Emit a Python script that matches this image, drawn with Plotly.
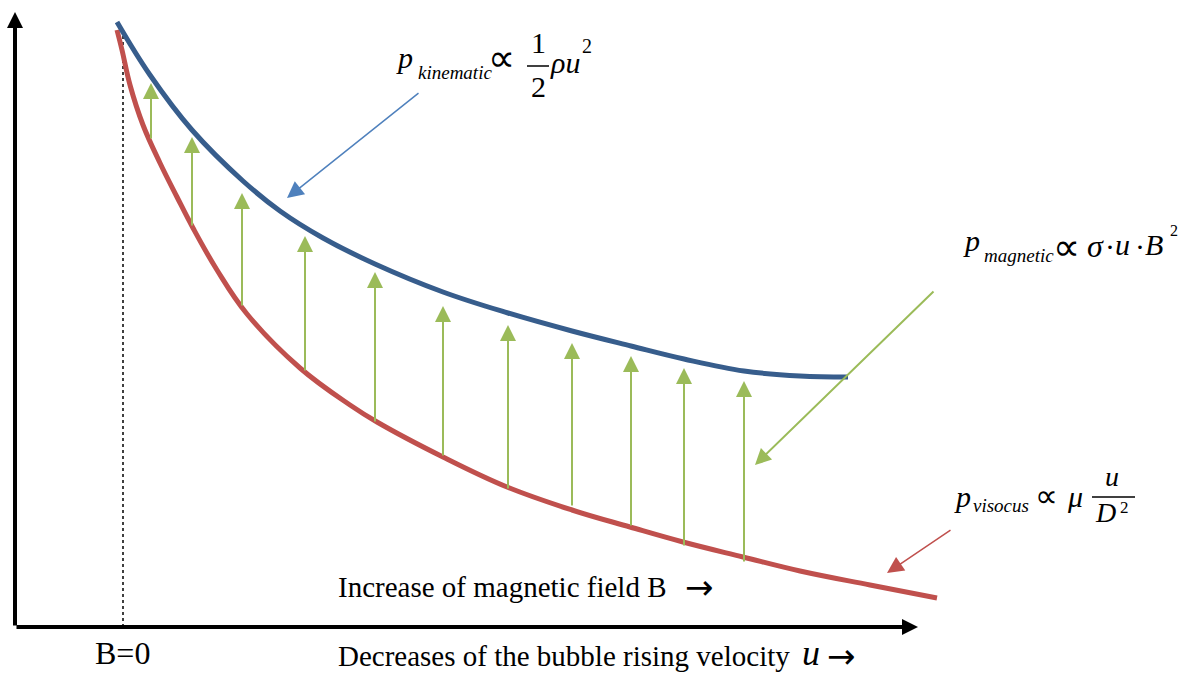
import plotly.graph_objects as go

# canvas coordinates (pixels, y grows downwards) for this schematic
W, H = 1195, 675

# upper curve: kinematic pressure
kin_x = [117, 150, 192, 243, 280, 323, 375, 443, 508, 572, 631, 684, 744, 800, 848]
kin_y = [22, 75, 130, 181, 211, 238, 264, 292, 313, 331, 346, 359, 371, 376, 377]

# lower curve: viscous pressure
vis_x = [117, 122, 130, 143, 160, 177, 193, 217, 247, 300, 350, 377, 443, 507, 572, 630, 683,
         743, 800, 870, 937]
vis_y = [30, 50, 85, 125, 163, 197, 228, 270, 314, 368, 405, 422, 457, 487, 510, 527, 542,
         557, 571, 585, 598]

# magnetic pressure arrows: x, tail (on lower curve), tip
mag_x = [151, 192, 242, 305, 375, 443, 508, 572, 631, 684, 744]
mag_tail = [140, 227, 307, 372, 423, 457, 490, 507, 527, 547, 563]
mag_tip = [83, 137, 193, 236, 272, 306, 325, 343, 356, 368, 381]

SERIF = "Liberation Serif, Times New Roman, serif"
SYM = "DejaVu Sans, sans-serif"

fig = go.Figure()

fig.add_trace(go.Scatter(x=[123, 123], y=[30, 625], mode="lines",
                         line=dict(color="black", width=1.5, dash="dot"), hoverinfo="skip"))
fig.add_trace(go.Scatter(x=vis_x, y=vis_y, mode="lines",
                         line=dict(color="#C0504D", width=5, shape="spline", smoothing=1.1),
                         hoverinfo="skip"))
fig.add_trace(go.Scatter(x=kin_x, y=kin_y, mode="lines",
                         line=dict(color="#375D8C", width=5, shape="spline", smoothing=1.1),
                         hoverinfo="skip"))


def arrow(x0, y0, x1, y1, color, width, size, head=2):
    fig.add_annotation(x=x1, y=y1, ax=x0, ay=y0, xref="x", yref="y", axref="x", ayref="y",
                       showarrow=True, arrowhead=head, arrowsize=size, arrowwidth=width,
                       arrowcolor=color, text="")


# axes
arrow(15, 627, 918, 627, "black", 4, 0.8)
arrow(15, 627, 15, 12, "black", 4, 0.8)

for x, t0, t1 in zip(mag_x, mag_tail, mag_tip):
    arrow(x, t0, x, t1, "#9BBB59", 2, 1.6)

# pointer arrows
arrow(420, 92, 287, 198, "#4F81BD", 1.5, 2.2)
arrow(935, 290, 755, 465, "#9BBB59", 2, 1.6)
arrow(952, 529, 887, 573, "#C0504D", 1.5, 2.2)


def txt(x, y, s, size, anchor="left", italic=False, family=SERIF):
    if italic:
        s = "<i>" + s + "</i>"
    fig.add_annotation(x=x, y=y, xref="x", yref="y", text=s, showarrow=False,
                       xanchor=anchor, yanchor="middle", borderpad=0,
                       font=dict(family=family, size=size, color="black"))


def bar(x0, x1, y):
    fig.add_shape(type="line", x0=x0, x1=x1, y0=y, y1=y, xref="x", yref="y",
                  line=dict(color="black", width=1.5))


# p_kinematic ∝ 1/2 ρ u^2
txt(395, 57, "p", 30, italic=True)
txt(417, 72, "kinematic", 19, italic=True)
txt(487, 58, "∝", 38, family=SYM)
txt(538, 42, "1", 30, anchor="center")
bar(527, 549, 66)
txt(538, 86, "2", 30, anchor="center")
txt(549, 62, "ρu", 30, italic=True)
txt(581, 46, "2", 20)

# p_magnetic ∝ σ·u·B^2
txt(962, 240, "p", 30, italic=True)
txt(983, 255, "magnetic", 19, italic=True)
txt(1052, 247, "∝", 38, family=SYM)
txt(1086, 246, "σ", 32, italic=True)
txt(1104, 246, "·", 30)
txt(1114, 244, "u", 30, italic=True)
txt(1134, 246, "·", 30)
txt(1144, 244, "B", 30, italic=True)
txt(1169, 230, "2", 16)

# p_visocus ∝ μ u/D^2
txt(953, 496, "p", 30, italic=True)
txt(972, 505, "visocus", 19, italic=True)
txt(1034, 496, "∝", 32, family=SYM)
txt(1066, 496, "μ", 30, italic=True)
txt(1112, 476, "u", 28, anchor="center", italic=True)
bar(1092, 1135, 497)
txt(1094, 512, "D", 28, italic=True)
txt(1119, 507, "2", 17)

# axis captions
txt(337, 587, "Increase of magnetic field B", 29)
txt(684, 587, "→", 34, family=SYM)
txt(122, 653, "B=0", 32, anchor="center")
txt(337, 656, "Decreases of the bubble rising velocity", 29)
txt(801, 653, "u", 36, italic=True)
txt(826, 656, "→", 34, family=SYM)

fig.update_xaxes(range=[0, W], visible=False)
fig.update_yaxes(range=[H, 0], visible=False)
fig.update_layout(width=W, height=H, margin=dict(l=0, r=0, t=0, b=0),
                  plot_bgcolor="white", paper_bgcolor="white", showlegend=False)

fig.write_html("out.html", config={"displayModeBar": False},
               post_script="document.body.style.margin = '0';")
